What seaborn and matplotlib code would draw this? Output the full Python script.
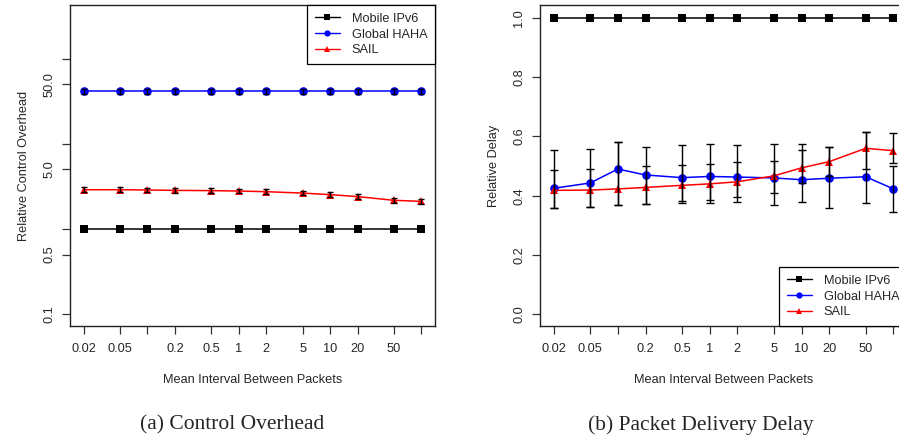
import matplotlib
matplotlib.use("Agg")
import matplotlib.pyplot as plt
from matplotlib.lines import Line2D
from matplotlib.ticker import FixedLocator, NullLocator, FixedFormatter
import numpy as np
import pandas as pd
import seaborn as sns

# mean interval between packets
intervals = [0.02, 0.05, 0.1, 0.2, 0.5, 1, 2, 5, 10, 20, 50, 100]
xtick_labels = ["0.02", "0.05", "", "0.2", "0.5", "1", "2", "5", "10", "20", "50", ""]
schemes = ["Mobile IPv6", "Global HAHA", "SAIL"]

# (a) relative control overhead
ipv6_overhead = [1.0, 1.0, 1.0, 1.0, 1.0, 1.0, 1.0, 1.0, 1.0, 1.0, 1.0, 1.0]
haha_overhead = [41.8, 41.8, 41.8, 41.8, 41.8, 41.8, 41.8, 41.8, 41.8, 41.8, 41.8, 41.8]
sail_overhead = [2.89, 2.89, 2.87, 2.84, 2.82, 2.79, 2.74, 2.64, 2.53, 2.40, 2.17, 2.11]
haha_overhead_err = [2.8, 2.8, 2.8, 2.8, 2.8, 2.8, 2.8, 2.8, 2.8, 2.8, 2.8, 2.8]
sail_overhead_err = [0.18, 0.18, 0.18, 0.18, 0.17, 0.17, 0.17, 0.16, 0.16, 0.15, 0.14, 0.13]

# (b) relative delay
ipv6_delay = [1.0, 1.0, 1.0, 1.0, 1.0, 1.0, 1.0, 1.0, 1.0, 1.0, 1.0, 1.0]
haha_delay = [0.425, 0.443, 0.490, 0.470, 0.461, 0.465, 0.463, 0.460, 0.454, 0.459, 0.464, 0.423]
sail_delay = [0.418, 0.419, 0.423, 0.428, 0.435, 0.440, 0.447, 0.467, 0.494, 0.515, 0.560, 0.552]
haha_delay_lo = [0.360, 0.362, 0.368, 0.373, 0.377, 0.374, 0.378, 0.367, 0.380, 0.357, 0.375, 0.346]
haha_delay_hi = [0.488, 0.489, 0.580, 0.500, 0.505, 0.507, 0.514, 0.517, 0.574, 0.564, 0.616, 0.500]
sail_delay_lo = [0.360, 0.362, 0.368, 0.373, 0.382, 0.384, 0.396, 0.410, 0.442, 0.466, 0.490, 0.510]
sail_delay_hi = [0.555, 0.558, 0.580, 0.564, 0.571, 0.576, 0.572, 0.574, 0.553, 0.564, 0.616, 0.613]

sns.set_theme(style="white")
plt.rcParams["font.family"] = ["Liberation Sans", "DejaVu Sans"]

colors = {"Mobile IPv6": "black", "Global HAHA": "#0000ff", "SAIL": "#ff0000"}
markers = {"Mobile IPv6": "s", "Global HAHA": "o", "SAIL": "^"}
FS = 9.2


def long_frame(a, b, c):
    return pd.DataFrame({
        "interval": intervals * 3,
        "value": a + b + c,
        "scheme": [schemes[0]] * 12 + [schemes[1]] * 12 + [schemes[2]] * 12,
    })


def style_axis(ax):
    ax.set_xscale("log")
    ax.set_xlim(0.0142, 140.6)
    ax.xaxis.set_major_locator(FixedLocator(intervals))
    ax.xaxis.set_major_formatter(FixedFormatter(xtick_labels))
    ax.xaxis.set_minor_locator(NullLocator())
    ax.tick_params(axis="both", direction="out", length=6, width=0.9,
                   color="#333333", labelsize=FS, pad=6, bottom=True, left=True)
    ax.tick_params(axis="y", labelrotation=90, pad=4.5)
    for lab in ax.get_yticklabels():
        lab.set_va("center")
    for s in ax.spines.values():
        s.set_linewidth(1.0)
        s.set_color("#222222")
    ax.set_xlabel("Mean Interval Between Packets", fontsize=FS, labelpad=14)


def add_legend(ax, loc):
    handles = [Line2D([0], [0], color=colors[s], marker=markers[s], markersize=4.5,
                      markeredgewidth=0, lw=1.0) for s in schemes]
    leg = ax.legend(handles, schemes, loc=loc, fontsize=FS, frameon=True,
                    fancybox=False, framealpha=1, edgecolor="black",
                    borderaxespad=0, handlelength=2.0, handletextpad=0.9,
                    labelspacing=0.3, borderpad=0.6)
    leg.get_frame().set_linewidth(0.9)


fig = plt.figure(figsize=(8.99, 4.4), dpi=100)
ax1 = fig.add_axes([70 / 899, 114 / 440, 365 / 899, 321 / 440])
ax2 = fig.add_axes([540 / 899, 114 / 440, 367 / 899, 321 / 440])

# (a) control overhead
ax1.set_yscale("log")
sns.lineplot(data=long_frame(ipv6_overhead, haha_overhead, sail_overhead),
             x="interval", y="value", hue="scheme", style="scheme",
             palette=colors, markers=markers, dashes=False, legend=False,
             markersize=6.2, markeredgewidth=0, linewidth=1.1, ax=ax1)
ax1.errorbar(intervals, haha_overhead, yerr=haha_overhead_err, fmt="none",
             ecolor="black", elinewidth=1.0, capsize=2, zorder=5)
ax1.errorbar(intervals, sail_overhead, yerr=sail_overhead_err, fmt="none",
             ecolor="black", elinewidth=1.0, capsize=2, zorder=5)
ax1.set_ylim(0.0724, 428)
ax1.yaxis.set_major_locator(FixedLocator([0.1, 0.5, 1, 5, 10, 50, 100]))
ax1.yaxis.set_major_formatter(FixedFormatter(["0.1", "0.5", "", "5.0", "", "50.0", ""]))
ax1.yaxis.set_minor_locator(NullLocator())
style_axis(ax1)
ax1.set_ylabel("Relative Control Overhead", fontsize=FS, labelpad=10)
add_legend(ax1, "upper right")

# (b) packet delivery delay
sns.lineplot(data=long_frame(ipv6_delay, haha_delay, sail_delay),
             x="interval", y="value", hue="scheme", style="scheme",
             palette=colors, markers=markers, dashes=False, legend=False,
             markersize=6.2, markeredgewidth=0, linewidth=1.1, ax=ax2)
h = np.array(haha_delay)
s = np.array(sail_delay)
ax2.errorbar(intervals, haha_delay,
             yerr=[h - np.array(haha_delay_lo), np.array(haha_delay_hi) - h],
             fmt="none", ecolor="black", elinewidth=1.0, capsize=3, zorder=5)
ax2.errorbar(intervals, sail_delay,
             yerr=[s - np.array(sail_delay_lo), np.array(sail_delay_hi) - s],
             fmt="none", ecolor="black", elinewidth=1.0, capsize=3, zorder=5)
ax2.set_ylim(-0.04, 1.044)
ax2.yaxis.set_major_locator(FixedLocator([0.0, 0.2, 0.4, 0.6, 0.8, 1.0]))
ax2.yaxis.set_major_formatter(FixedFormatter(["0.0", "0.2", "0.4", "0.6", "0.8", "1.0"]))
style_axis(ax2)
ax2.set_ylabel("Relative Delay", fontsize=FS, labelpad=10)
add_legend(ax2, "lower right")

fig.text(232 / 899, 1 - 425 / 440, "(a) Control Overhead", ha="center", va="center",
         fontsize=15.5, family=["Liberation Serif", "DejaVu Serif"])
fig.text(701 / 899, 1 - 425 / 440, "(b) Packet Delivery Delay", ha="center", va="center",
         fontsize=15.5, family=["Liberation Serif", "DejaVu Serif"])

fig.savefig("out.png", dpi=100)
